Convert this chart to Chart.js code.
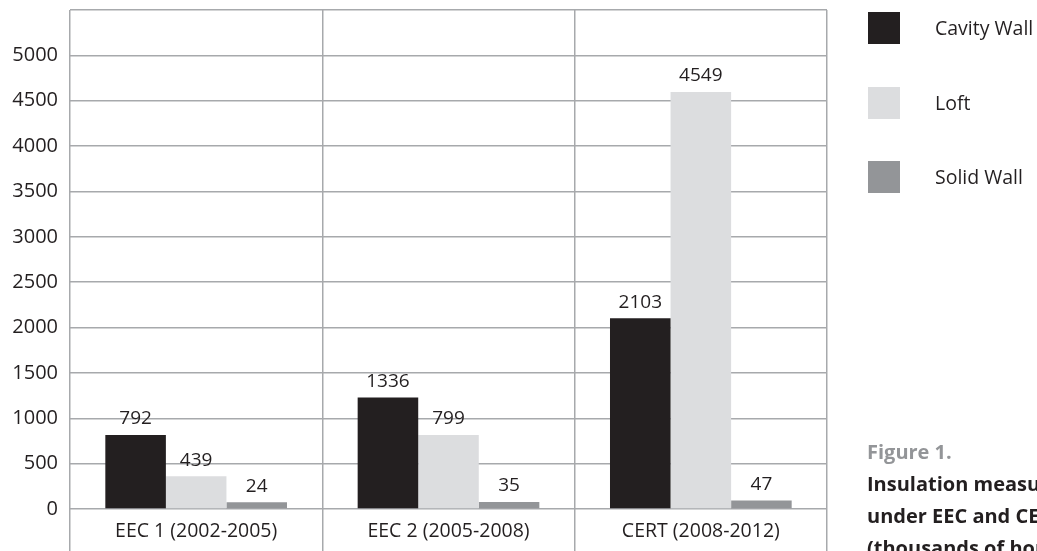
<!DOCTYPE html>
<html>
<head>
<meta charset="utf-8">
<script src="https://cdn.jsdelivr.net/npm/chart.js@4/dist/chart.umd.min.js"></script>
<style>
  html, body { margin: 0; padding: 0; background: #fff; }
  #wrap { position: relative; width: 1037px; height: 551px; overflow: hidden; font-family: "Open Sans", sans-serif; color: #231f20; }
  #chartBox { position: absolute; left: 0; top: 0; width: 1037px; height: 551px; }
  .key { position: absolute; left: 868px; width: 32px; height: 32px; }
  .keyText { position: absolute; left: 935px; font-size: 19.5px; line-height: 32px; white-space: nowrap; }
  #caption { position: absolute; left: 867px; top: 436px; font-size: 20px; font-weight: bold; line-height: 32px; white-space: nowrap; }
  #caption .fig { color: #939598; }
</style>
</head>
<body>
<div id="wrap">
  <div id="chartBox"><canvas id="main-chart"></canvas></div>
  <div id="legend"></div>
  <div id="caption">
    <div class="fig">Figure 1.</div>
    <div>Insulation measures</div>
    <div>under EEC and CERT</div>
    <div>(thousands of households)</div>
  </div>
</div>
<script>
  const categories = ['EEC 1 (2002-2005)', 'EEC 2 (2005-2008)', 'CERT (2008-2012)']
  const seriesNames = ['Cavity Wall', 'Loft', 'Solid Wall']
  const seriesColors = ['#231f20', '#dcdddf', '#939598']

  // bar heights as they are drawn in the figure
  const cavityWall = [816, 1228, 2102]
  const loft = [362, 815, 4597]
  const solidWall = [74, 77, 93]

  // numbers printed above the bars
  const cavityLabels = ['792', '1336', '2103']
  const loftLabels = ['439', '799', '4549']
  const solidLabels = ['24', '35', '47']

  const yMax = 5500
  const yStep = 500

  const gridColor = '#a7a9ac'
  Chart.defaults.font.family = '"Open Sans", sans-serif'
  Chart.defaults.color = '#231f20'

  // legend on the right
  let legendTops = [12, 87, 161]
  let legend = document.getElementById('legend')
  seriesNames.forEach(function(name, i) {
    let sq = document.createElement('div')
    sq.className = 'key'
    sq.style.top = legendTops[i] + 'px'
    sq.style.background = seriesColors[i]
    legend.appendChild(sq)
    let txt = document.createElement('div')
    txt.className = 'keyText'
    txt.style.top = legendTops[i] + 'px'
    txt.textContent = name
    legend.appendChild(txt)
  })

  // numbers above each bar
  const barLabels = {
    id: 'barLabels',
    afterDatasetsDraw(chart) {
      let ctx = chart.ctx
      ctx.save()
      ctx.font = '19px "Open Sans"'
      ctx.fillStyle = '#231f20'
      ctx.textAlign = 'center'
      ctx.textBaseline = 'middle'
      chart.data.datasets.forEach(function(ds, i) {
        chart.getDatasetMeta(i).data.forEach(function(bar, j) {
          ctx.fillText(ds.printed[j], bar.x, bar.y - 16)
        })
      })
      ctx.restore()
    }
  }

  let source = document.getElementById('main-chart')
  new Chart(source, {
    type: 'bar',
    data: {
      labels: categories,
      datasets: [
        { label: seriesNames[0], data: cavityWall, printed: cavityLabels, backgroundColor: seriesColors[0] },
        { label: seriesNames[1], data: loft, printed: loftLabels, backgroundColor: seriesColors[1] },
        { label: seriesNames[2], data: solidWall, printed: solidLabels, backgroundColor: seriesColors[2] }
      ]
    },
    options: {
      responsive: true,
      maintainAspectRatio: false,
      animation: false,
      categoryPercentage: 0.72,
      barPercentage: 1,
      layout: { padding: { top: 10, right: 210, left: 0, bottom: 0 } },
      plugins: {
        legend: { display: false },
        tooltip: { enabled: false }
      },
      scales: {
        x: {
          grid: { offset: true, color: gridColor, lineWidth: 1.5, tickLength: 43 },
          border: { display: false },
          ticks: { padding: -32, font: { size: 19.5 }, color: '#231f20' },
          afterFit: function(scale) {
            scale.height = 42
            scale.paddingLeft = 0
            scale.paddingRight = 0
          }
        },
        y: {
          min: 0,
          max: yMax,
          grid: { color: gridColor, lineWidth: 1.5, drawTicks: false },
          border: { display: false },
          ticks: {
            stepSize: yStep,
            padding: 12,
            font: { size: 20 },
            color: '#231f20',
            callback: function(v) { return v === yMax ? '' : v }
          },
          afterFit: function(scale) {
            scale.width = 70
            scale.paddingTop = 0
            scale.paddingBottom = 0
          }
        }
      }
    },
    plugins: [barLabels]
  })
</script>
</body>
</html>
